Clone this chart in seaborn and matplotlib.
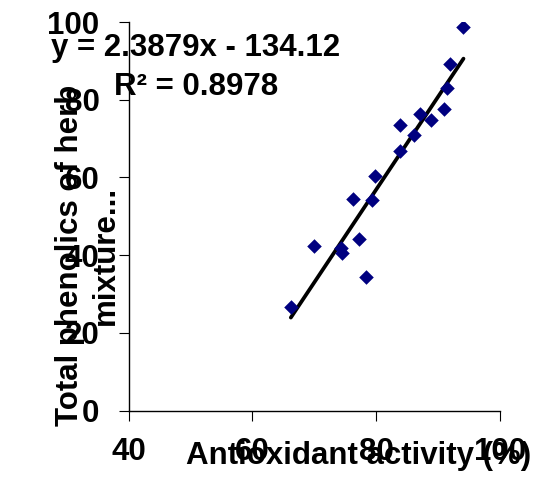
import numpy as np
import pandas as pd
import matplotlib
matplotlib.use("Agg")
import matplotlib.pyplot as plt
import seaborn as sns

# values
antioxidant = [94.1, 92.0, 91.4, 91.0, 88.9, 87.1, 86.1, 83.8, 83.8,
               79.8, 79.3, 76.2, 77.2, 74.3, 74.4, 69.9, 78.3, 66.2]
phenolics = [98.8, 89.3, 82.9, 77.7, 74.7, 76.3, 70.9, 73.4, 66.8,
             60.4, 54.1, 54.5, 44.1, 41.9, 40.6, 42.5, 34.4, 26.6]
slope, intercept, r2 = 2.3879, -134.12, 0.8978
x_ticks = [40, 60, 80, 100]
y_ticks = [0, 20, 40, 60, 80, 100]

df = pd.DataFrame({"Antioxidant activity (%)": antioxidant,
                   "phenolics": phenolics})

sns.set_style("ticks")
plt.rcParams['font.family'] = ['Liberation Sans', 'DejaVu Sans']
plt.rcParams['font.weight'] = 'bold'
for k in ['text.color', 'axes.labelcolor', 'xtick.color', 'ytick.color']:
    plt.rcParams[k] = 'black'

FS = 22.5

fig = plt.figure(figsize=(5.41, 4.79), dpi=100)
ax = fig.add_axes([0.2379, 0.1426, 0.6863, 0.8114])

sns.scatterplot(data=df, x="Antioxidant activity (%)", y="phenolics", ax=ax,
                marker="D", s=55, color="#000080", linewidth=0, zorder=3)

# trendline from the reported equation over the data range
xl = np.array([min(antioxidant), max(antioxidant)])
sns.lineplot(x=xl, y=slope * xl + intercept, ax=ax, color="black",
             linewidth=2.7, zorder=2)

ax.set_xlim(40, 100)
ax.set_ylim(0, 100)
ax.set_xticks(x_ticks)
ax.set_yticks(y_ticks)
ax.tick_params(axis='both', direction='out', length=7, width=0.8,
               labelsize=FS, color='black')
ax.tick_params(axis='x', pad=12)
ax.tick_params(axis='y', pad=14)
for lab in ax.get_xticklabels() + ax.get_yticklabels():
    lab.set_fontweight('bold')
sns.despine(ax=ax)
for sp in ['left', 'bottom']:
    ax.spines[sp].set_linewidth(1.0)
    ax.spines[sp].set_color('black')

ax.set_xlabel("Antioxidant activity (%)", fontsize=FS, fontweight='bold')
ax.xaxis.set_label_coords(0.620, -0.077)
ax.set_ylabel("Total phenolics of herb\nmixture...", fontsize=FS,
              fontweight='bold', multialignment='center', linespacing=1.28)
ax.yaxis.set_label_coords(-0.02, 0.40)

ax.text(0.181, 0.812, f"y = {slope}x - {abs(intercept)}\nR² = {r2}",
        transform=ax.transAxes, ha='center', va='baseline',
        multialignment='center', fontsize=FS, fontweight='bold',
        linespacing=1.39, zorder=4)

fig.savefig("out.png", dpi=100)
